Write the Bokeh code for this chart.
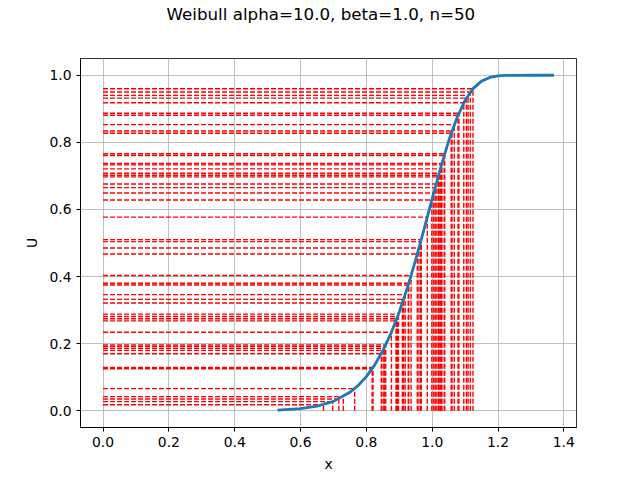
from bokeh.plotting import figure
from bokeh.models import ColumnDataSource, FixedTicker, NumeralTickFormatter, Range1d, Title
from bokeh.embed import file_html
from bokeh.resources import INLINE

u_samples = [0.960, 0.950, 0.940, 0.932, 0.918, 0.887, 0.881, 0.853, 0.834, 0.827,
             0.766, 0.761, 0.737, 0.733, 0.721, 0.708, 0.702, 0.697, 0.676, 0.665,
             0.649, 0.628, 0.577, 0.510, 0.504, 0.485, 0.467, 0.403, 0.380, 0.375,
             0.346, 0.332, 0.321, 0.288, 0.281, 0.274, 0.268, 0.234, 0.196, 0.191,
             0.186, 0.180, 0.170, 0.129, 0.125, 0.066, 0.042, 0.035, 0.027, 0.018]
x_samples = [1.1240, 1.1160, 1.1090, 1.1039, 1.0960, 1.0811, 1.0785, 1.0673, 1.0603, 1.0578,
             1.0380, 1.0365, 1.0294, 1.0282, 1.0247, 1.0210, 1.0193, 1.0179, 1.0120, 1.0090,
             1.0046, 0.9989, 0.9851, 0.9668, 0.9651, 0.9598, 0.9547, 0.9360, 0.9289, 0.9273,
             0.9180, 0.9133, 0.9094, 0.8976, 0.8950, 0.8923, 0.8901, 0.8762, 0.8588, 0.8563,
             0.8538, 0.8507, 0.8453, 0.8203, 0.8176, 0.7646, 0.7299, 0.7164, 0.6978, 0.6698]

# CDF curve points
curve_x = [0.53, 0.60, 0.65, 0.70, 0.75, 0.775, 0.80, 0.825, 0.85, 0.875, 0.90, 0.925,
           0.95, 0.975, 1.00, 1.025, 1.05, 1.075, 1.10, 1.125, 1.15, 1.175, 1.20, 1.225,
           1.25, 1.30, 1.37]
curve_u = [0.0018, 0.0060, 0.0134, 0.0279, 0.0548, 0.0752, 0.1018, 0.1359, 0.1787, 0.2313,
           0.2944, 0.3678, 0.4505, 0.5399, 0.6321, 0.7220, 0.8038, 0.8727, 0.9252, 0.9611,
           0.9825, 0.9934, 0.9980, 0.9995, 0.9999, 1.0, 1.0]

x_ticks = [0.0, 0.2, 0.4, 0.6, 0.8, 1.0, 1.2, 1.4]
y_ticks = [0.0, 0.2, 0.4, 0.6, 0.8, 1.0]
title_text = "Weibull alpha=10.0, beta=1.0, n=50"

FONT = "DejaVu Sans"

p = figure(width=640, height=480, output_backend="svg", toolbar_location=None,
           x_range=Range1d(-0.0685, 1.4385), y_range=Range1d(-0.05, 1.05),
           min_border_left=80, min_border_right=64, min_border_top=58, min_border_bottom=53)
# real title (outermost) and an empty spacer panel between it and the frame
p.title = Title(text=title_text, align="left", text_font=FONT, text_font_size="16.7px",
                text_font_style="normal", text_color="black", standoff=0, offset=86)
p.add_layout(Title(text=" ", text_font_size="1px", standoff=32), "above")

src = ColumnDataSource(dict(zero=[0.0] * len(u_samples), u=u_samples, x=x_samples))
p.segment(x0="zero", y0="u", x1="x", y1="u", source=src, line_color="red",
          line_width=1.4, line_dash="5 2")
p.segment(x0="x", y0="zero", x1="x", y1="u", source=src, line_color="red",
          line_width=1.4, line_dash="5 2")
p.line(curve_x, curve_u, line_color="#1f77b4", line_width=2.8)

p.xaxis.ticker = FixedTicker(ticks=x_ticks)
p.yaxis.ticker = FixedTicker(ticks=y_ticks)
p.xaxis.formatter = NumeralTickFormatter(format="0.0")
p.yaxis.formatter = NumeralTickFormatter(format="0.0")
p.xaxis.axis_label = "x"
p.yaxis.axis_label = "U"
for ax in (p.xaxis[0], p.yaxis[0]):
    ax.axis_label_text_font = FONT
    ax.axis_label_text_font_size = "13.9px"
    ax.axis_label_text_font_style = "normal"
    ax.axis_label_text_color = "black"
    ax.major_label_text_font = FONT
    ax.major_label_text_font_size = "13.9px"
    ax.major_label_text_color = "black"
    ax.major_tick_out = 4
    ax.major_tick_in = 0
    ax.minor_tick_out = 0
    ax.minor_tick_in = 0
    ax.axis_line_color = "black"
    ax.major_tick_line_color = "black"
    ax.axis_label_standoff = 6
p.yaxis.major_label_orientation = "horizontal"

p.xgrid.grid_line_color = "#b0b0b0"
p.ygrid.grid_line_color = "#b0b0b0"
p.xgrid.grid_line_width = 0.8
p.ygrid.grid_line_width = 0.8
p.outline_line_color = "black"
p.outline_line_width = 0.8
p.background_fill_color = "white"
p.border_fill_color = "white"

open("out.html", "w").write(file_html(p, INLINE))
